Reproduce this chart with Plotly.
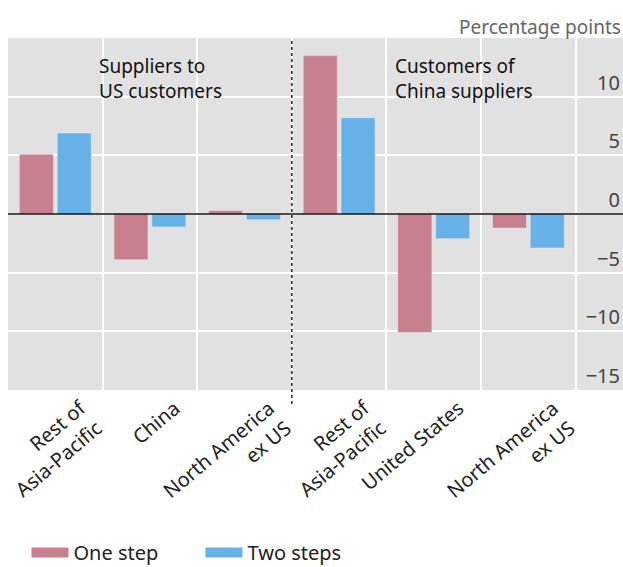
import plotly.graph_objects as go

# Change in share, percentage points
categories = [
    "Rest of<br>Asia-Pacific",
    "China",
    "North America<br>ex US",
    "Rest of<br>Asia-Pacific",
    "United States",
    "North America<br>ex US",
]
one_step = [5.1, -3.9, 0.3, 13.5, -10.1, -1.2]
two_steps = [6.9, -1.1, -0.5, 8.2, -2.1, -2.9]

PINK = "#C8808F"
BLUE = "#66B2E8"
FONT = "Noto Sans"

x = list(range(len(categories)))

fig = go.Figure()
fig.add_trace(go.Bar(x=x, y=one_step, name="One step", marker_color=PINK, showlegend=False))
fig.add_trace(go.Bar(x=x, y=two_steps, name="Two steps", marker_color=BLUE, showlegend=False))

# legend entries drawn as wide swatches
for name, color in [("One step", PINK), ("Two steps", BLUE)]:
    fig.add_trace(go.Scatter(
        x=[None], y=[None], mode="lines", name=name,
        line=dict(color=color, width=13),
    ))

# divider between the two panels
fig.add_shape(
    type="line", xref="x", yref="paper",
    x0=2.5, x1=2.5, y0=-0.04, y1=1,
    line=dict(color="#222", width=1.5, dash="dot"),
)
fig.add_hline(y=0, line_color="#111", line_width=1.5)

fig.add_annotation(
    text="Suppliers to<br>US customers", xref="x", yref="y",
    x=0.44, y=13.9, xanchor="left", yanchor="top", align="left",
    showarrow=False, font=dict(size=19, color="#111"),
)
fig.add_annotation(
    text="Customers of<br>China suppliers", xref="x", yref="y",
    x=3.57, y=13.9, xanchor="left", yanchor="top", align="left",
    showarrow=False, font=dict(size=19, color="#111"),
)
fig.add_annotation(
    text="Percentage points", xref="paper", yref="paper",
    x=1.0, y=1.03, xanchor="right", yanchor="middle",
    showarrow=False, font=dict(size=19, color="#666"),
)

fig.update_layout(
    width=623, height=567,
    barmode="group", bargap=0.2, bargroupgap=0.1,
    paper_bgcolor="white", plot_bgcolor="#E1E1E1",
    font=dict(family=FONT, size=20, color="#222"),
    margin=dict(l=8, r=0, t=38, b=177, autoexpand=False),
    xaxis=dict(
        range=[-0.5, 6.0], automargin=False,
        tickmode="array", tickvals=x, ticktext=categories,
        tickangle=-40, ticklabelshift=25, ticklabelstandoff=2,
        ticklabeloverflow="allow",
        showgrid=False, zeroline=False, ticks="",
        minor=dict(tick0=0.5, dtick=1, showgrid=True, gridcolor="white", gridwidth=1.5),
        fixedrange=True,
    ),
    yaxis=dict(
        range=[-15, 15], automargin=False,
        tickvals=[-15, -10, -5, 0, 5, 10],
        ticktext=["−15", "−10", "−5", "0", "5", "10"],
        side="right", ticklabelposition="inside top",
        showgrid=True, gridcolor="white", gridwidth=1.5,
        zeroline=False, ticks="",
    ),
    legend=dict(
        orientation="h", x=0.03, xanchor="left", y=-0.462, yanchor="middle",
        font=dict(size=20, color="#222"), itemwidth=37, entrywidth=122,
    ),
)

# drop the default page margin so the figure fills the window
fig.write_html(
    "out.html",
    config={"displayModeBar": False},
    post_script="document.body.style.margin = '0';",
)
